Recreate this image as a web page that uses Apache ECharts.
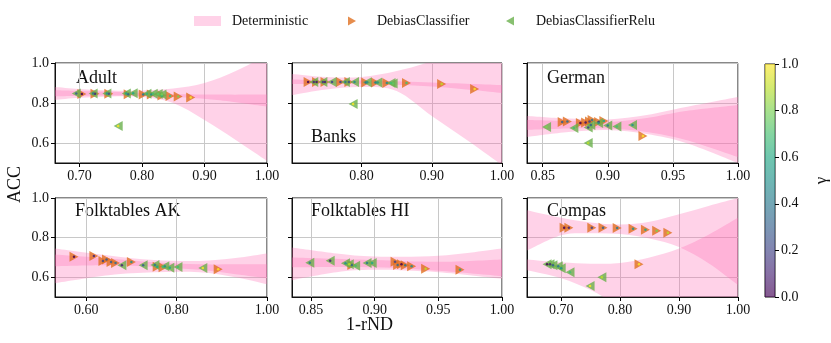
<!DOCTYPE html>
<html>
<head>
<meta charset="utf-8">
<script src="https://cdn.jsdelivr.net/npm/echarts@6/dist/echarts.min.js"></script>
<style>
html,body{margin:0;padding:0;background:#fff;}
#chart{width:831px;height:343px;}
</style>
</head>
<body>
<div id="chart"></div>
<script>
// points: [1-rND, ACC, gamma]
const adultDC = [[0.704,0.845,0.0],[0.725,0.846,0.1],[0.747,0.846,0.2],[0.778,0.844,0.3],[0.802,0.843,0.4],[0.815,0.842,0.5],[0.832,0.838,0.6],[0.845,0.835,0.7],[0.858,0.832,0.8],[0.878,0.828,1.0]];
const adultDCR = [[0.695,0.848,0.3],[0.722,0.848,0.4],[0.744,0.848,0.5],[0.775,0.848,0.55],[0.786,0.849,0.6],[0.808,0.846,0.65],[0.818,0.846,0.7],[0.826,0.845,0.75],[0.832,0.843,0.8],[0.762,0.685,1.0]];
// bands: [1-rND, lower, upper]
const adultBandA = [[0.661,0.815,0.880],[0.70,0.826,0.870],[0.75,0.833,0.862],[0.80,0.830,0.862],[0.85,0.800,0.872],[0.90,0.715,0.900],[0.95,0.615,0.960],[1.00,0.510,1.040]];
const adultBandB = [[0.661,0.834,0.864],[0.75,0.838,0.856],[0.85,0.830,0.845],[0.92,0.815,0.842],[1.00,0.782,0.842]];

const banksDC = [[0.724,0.905,0.0],[0.736,0.905,0.05],[0.748,0.905,0.1],[0.770,0.905,0.2],[0.782,0.905,0.25],[0.806,0.903,0.3],[0.820,0.902,0.4],[0.836,0.900,0.5],[0.864,0.900,0.7],[0.914,0.895,0.9],[0.961,0.870,1.0]];
const banksDCR = [[0.732,0.905,0.1],[0.745,0.905,0.15],[0.758,0.905,0.2],[0.777,0.905,0.4],[0.790,0.905,0.45],[0.808,0.904,0.5],[0.823,0.903,0.55],[0.842,0.900,0.7],[0.845,0.898,0.75],[0.788,0.795,1.0]];
const banksBandA = [[0.701,0.840,0.945],[0.75,0.868,0.930],[0.80,0.880,0.930],[0.85,0.860,0.960],[0.90,0.735,1.010],[0.95,0.615,1.090],[1.00,0.490,1.170]];
const banksBandB = [[0.701,0.895,0.918],[0.80,0.896,0.912],[0.90,0.882,0.903],[1.00,0.850,0.890]];

const germanDC = [[0.865,0.705,0.3],[0.869,0.707,0.35],[0.879,0.700,0.0],[0.883,0.703,0.05],[0.886,0.708,0.2],[0.888,0.715,0.4],[0.893,0.705,0.1],[0.897,0.710,0.6],[0.927,0.635,1.0]];
const germanDCR = [[0.853,0.680,0.8],[0.874,0.675,0.7],[0.885,0.677,0.2],[0.887,0.690,0.3],[0.893,0.700,0.5],[0.900,0.688,0.4],[0.907,0.683,0.7],[0.919,0.690,0.5],[0.885,0.600,0.9]];
const germanBandA = [[0.838,0.630,0.735],[0.87,0.655,0.722],[0.90,0.665,0.718],[0.93,0.645,0.740],[0.96,0.600,0.780],[1.00,0.500,0.830]];
const germanBandB = [[0.838,0.665,0.715],[0.87,0.672,0.710],[0.90,0.672,0.705],[0.93,0.655,0.725],[0.96,0.615,0.760],[1.00,0.530,0.790]];

const akDC = [[0.573,0.703,0.0],[0.617,0.707,0.1],[0.637,0.682,0.2],[0.645,0.690,0.25],[0.655,0.677,0.3],[0.665,0.672,0.35],[0.700,0.677,0.5],[0.757,0.653,0.6],[0.770,0.650,0.7],[0.892,0.640,1.0]];
const akDCR = [[0.679,0.660,0.1],[0.726,0.660,0.3],[0.752,0.662,0.4],[0.774,0.655,0.5],[0.785,0.648,0.6],[0.803,0.652,0.7],[0.858,0.646,1.0]];
const akBandA = [[0.531,0.570,0.745],[0.65,0.610,0.710],[0.75,0.625,0.687],[0.85,0.625,0.682],[0.93,0.600,0.697],[1.00,0.565,0.720]];
const akBandB = [[0.531,0.655,0.715],[0.65,0.660,0.695],[0.75,0.652,0.675],[0.85,0.637,0.665],[0.93,0.615,0.665],[1.00,0.595,0.665]];

const hiDC = [[0.882,0.662,0.3],[0.916,0.678,0.2],[0.918,0.662,0.35],[0.921,0.665,0.0],[0.924,0.660,0.4],[0.929,0.655,0.5],[0.940,0.643,0.9],[0.967,0.637,0.6]];
const hiDCR = [[0.849,0.673,0.4],[0.865,0.683,0.1],[0.877,0.670,0.5],[0.880,0.665,0.9],[0.885,0.658,0.7],[0.894,0.672,0.4],[0.898,0.672,0.6]];
const hiBandA = [[0.835,0.585,0.750],[0.87,0.625,0.720],[0.90,0.637,0.705],[0.95,0.625,0.708],[1.00,0.592,0.745]];
const hiBandB = [[0.835,0.650,0.700],[0.90,0.650,0.687],[0.95,0.632,0.678],[1.00,0.605,0.690]];

const compasDC = [[0.705,0.850,0.0],[0.713,0.850,0.1],[0.752,0.850,0.2],[0.771,0.850,0.3],[0.795,0.848,0.4],[0.822,0.845,0.5],[0.843,0.840,0.6],[0.862,0.835,0.8],[0.881,0.825,0.9],[0.832,0.665,1.0]];
const compasDCR = [[0.676,0.665,0.0],[0.681,0.665,0.1],[0.686,0.660,0.3],[0.695,0.655,0.4],[0.700,0.645,0.5],[0.715,0.625,0.7],[0.769,0.600,0.9],[0.749,0.555,1.0]];
const compasBandA = [[0.642,0.735,0.938],[0.70,0.812,0.900],[0.75,0.822,0.876],[0.80,0.818,0.866],[0.85,0.795,0.880],[0.90,0.752,0.918],[0.95,0.670,0.960],[1.00,0.560,1.000]];
const compasBandB = [[0.642,0.635,0.690],[0.70,0.595,0.675],[0.75,0.535,0.668],[0.80,0.450,0.672],[0.85,0.360,0.700],[0.90,0.250,0.745],[0.95,0.120,0.815],[1.00,0.000,0.900]];

const yTicks = [0.6, 0.8, 1.0];
const cbTicks = [0, 0.2, 0.4, 0.6, 0.8, 1.0];

const FONT = 'Liberation Serif';
const PINK = '#ff69b4';
const ORANGE = '#e07020';
const GREEN = '#6ab04c';
const RIGHT = 'path://M0,0L9,5L0,10Z';
const LEFT = 'path://M9,0L0,5L9,10Z';
const VIRIDIS = ['#440154','#482475','#414487','#355f8d','#2a788e','#21918c','#22a884','#44bf70','#7ad151','#bddf26','#fde725'];

const panels = [
  {title:'Adult', tx:76, ty:79, dc:adultDC, dcr:adultDCR, bands:[adultBandA, adultBandB], xMin:0.661, xTicks:[0.7,0.8,0.9,1.0], left:55, top:63, width:212, height:100, yLab:true},
  {title:'Banks', tx:311, ty:138, dc:banksDC, dcr:banksDCR, bands:[banksBandA, banksBandB], xMin:0.701, xTicks:[0.8,0.9,1.0], left:292, top:63, width:210, height:100},
  {title:'German', tx:547, ty:79, dc:germanDC, dcr:germanDCR, bands:[germanBandA, germanBandB], xMin:0.838, xTicks:[0.85,0.9,0.95,1.0], left:527, top:63, width:211, height:100},
  {title:'Folktables AK', tx:75, ty:212, dc:akDC, dcr:akDCR, bands:[akBandA, akBandB], xMin:0.531, xTicks:[0.6,0.8,1.0], left:55, top:198, width:212, height:99, yLab:true},
  {title:'Folktables HI', tx:311, ty:212, dc:hiDC, dcr:hiDCR, bands:[hiBandA, hiBandB], xMin:0.835, xTicks:[0.85,0.9,0.95,1.0], left:292, top:198, width:210, height:99},
  {title:'Compas', tx:547, ty:212, dc:compasDC, dcr:compasDCR, bands:[compasBandA, compasBandB], xMin:0.642, xTicks:[0.7,0.8,0.9,1.0], left:527, top:198, width:211, height:99}
];

// smooth curve through pixel points (catmull-rom as cubic beziers)
function curve(pts, start) {
  let d = start ? 'M' + pts[0][0] + ',' + pts[0][1] : 'L' + pts[0][0] + ',' + pts[0][1];
  for (let i = 0; i < pts.length - 1; i++) {
    const p0 = pts[Math.max(i - 1, 0)], p1 = pts[i], p2 = pts[i + 1], p3 = pts[Math.min(i + 2, pts.length - 1)];
    const c1 = [p1[0] + (p2[0] - p0[0]) / 6, p1[1] + (p2[1] - p0[1]) / 6];
    const c2 = [p2[0] - (p3[0] - p1[0]) / 6, p2[1] - (p3[1] - p1[1]) / 6];
    d += 'C' + c1.join(',') + ' ' + c2.join(',') + ' ' + p2.join(',');
  }
  return d;
}

function bandSeries(band, i) {
  return {
    type:'custom', name:'Deterministic', xAxisIndex:i, yAxisIndex:i, clip:true, silent:true, z:1,
    itemStyle:{color:PINK},
    encode:{x:0, y:[1, 2]},
    data:band,
    renderItem:(params, api) => {
      if (params.dataIndex !== 0) return null;
      const up = band.map(r => api.coord([r[0], r[2]]));
      const lo = band.map(r => api.coord([r[0], r[1]])).reverse();
      return {type:'path', shape:{pathData:curve(up, true) + curve(lo, false) + 'Z'},
        style:{fill:PINK, opacity:0.3}};
    }
  };
}

const chart = echarts.init(document.getElementById('chart'));

const grids = [], xAxes = [], yAxes = [], series = [], graphics = [], dotIdx = [];
const tickStyle = {show:true, length:4, inside:false, lineStyle:{color:'#000', width:1}};
const gridLine = {show:true, lineStyle:{color:'#c8c8c8', width:1}};

panels.forEach((p, i) => {
  grids.push({left:p.left, top:p.top, width:p.width, height:p.height, show:true, borderColor:'#111', borderWidth:1});
  xAxes.push({
    gridIndex:i, type:'value', min:p.xMin, max:1.0,
    axisLine:{show:true, onZero:false, lineStyle:{color:'#111'}},
    axisTick:Object.assign({customValues:p.xTicks}, tickStyle),
    axisLabel:{customValues:p.xTicks, formatter:v => v.toFixed(2), fontFamily:FONT, fontSize:14, color:'#111', margin:6},
    splitLine:gridLine
  });
  yAxes.push({
    gridIndex:i, type:'value', min:0.5, max:1.0,
    axisLine:{show:true, onZero:false, lineStyle:{color:'#111'}},
    axisTick:Object.assign({customValues:yTicks}, tickStyle),
    axisLabel:{show:!!p.yLab, customValues:yTicks, formatter:v => v.toFixed(1), fontFamily:FONT, fontSize:14, color:'#111', margin:6},
    splitLine:gridLine
  });
  p.bands.forEach(b => series.push(bandSeries(b, i)));
  [[p.dc, 'DebiasClassifier', RIGHT, ORANGE], [p.dcr, 'DebiasClassifierRelu', LEFT, GREEN]].forEach(([pts, name, sym, col]) => {
    series.push({type:'scatter', name, xAxisIndex:i, yAxisIndex:i, symbol:sym, symbolSize:[9, 10], z:3,
      itemStyle:{color:col, opacity:0.8}, data:pts.map(d => [d[0], d[1]])});
    dotIdx.push(series.length);
    series.push({type:'scatter', name:'gamma', xAxisIndex:i, yAxisIndex:i, symbol:'circle', symbolSize:2.5, z:4,
      data:pts.map(d => [d[0], d[1], d[2]])});
  });
  graphics.push({type:'text', left:p.tx, top:p.ty - 10, style:{text:p.title, fontFamily:FONT, fontSize:18, fill:'#111'}});
});

// colorbar
const cb = panels.length;
grids.push({left:765, top:64, width:12, height:233, show:true, borderColor:'#111', borderWidth:1});
xAxes.push({gridIndex:cb, type:'category', data:['g'], show:false});
yAxes.push({
  gridIndex:cb, type:'value', min:0, max:1, interval:0.2, position:'right',
  axisLine:{show:false}, axisTick:tickStyle, splitLine:{show:false},
  axisLabel:{formatter:v => v.toFixed(1), fontFamily:FONT, fontSize:14, color:'#111', margin:6},
  name:'γ', nameLocation:'middle', nameGap:38, nameRotate:90,
  nameTextStyle:{fontFamily:FONT, fontSize:17, color:'#111'}
});
series.push({type:'bar', xAxisIndex:cb, yAxisIndex:cb, barWidth:'100%', silent:true, data:[cbTicks[cbTicks.length - 1]],
  itemStyle:{opacity:0.65, color:new echarts.graphic.LinearGradient(0, 1, 0, 0,
    VIRIDIS.map((c, j) => ({offset:j / (VIRIDIS.length - 1), color:c})))}});

graphics.push({type:'text', left:6, top:166, rotation:Math.PI / 2, style:{text:'ACC', fontFamily:FONT, fontSize:18, fill:'#111'}});
graphics.push({type:'text', left:346, top:316, style:{text:'1-rND', fontFamily:FONT, fontSize:18, fill:'#111'}});

const legendText = {fontFamily:FONT, fontSize:14, color:'#111'};
chart.setOption({
  animation:false,
  grid:grids, xAxis:xAxes, yAxis:yAxes, series, graphic:graphics,
  visualMap:{type:'continuous', show:false, min:0, max:1, dimension:2, seriesIndex:dotIdx, inRange:{color:VIRIDIS, opacity:0.85}},
  legend:[
    {left:194, top:14, padding:0, itemWidth:27, itemHeight:10, selectedMode:false,
      data:[{name:'Deterministic', icon:'rect', itemStyle:{color:'rgba(255,105,180,0.3)'}}],
      textStyle:Object.assign({padding:[0, 0, 0, 6]}, legendText)},
    {left:348, top:14, padding:0, itemWidth:8, itemHeight:9, selectedMode:false, icon:RIGHT,
      data:['DebiasClassifier'], textStyle:Object.assign({padding:[0, 0, 0, 16]}, legendText)},
    {left:506, top:14, padding:0, itemWidth:8, itemHeight:9, selectedMode:false, icon:LEFT,
      data:['DebiasClassifierRelu'], textStyle:Object.assign({padding:[0, 0, 0, 17]}, legendText)}
  ]
});
</script>
</body>
</html>
